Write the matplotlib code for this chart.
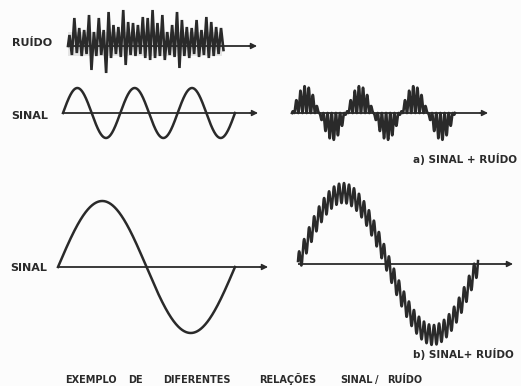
import numpy as np
import matplotlib
matplotlib.use('Agg')
import matplotlib.pyplot as plt

# ---------------- data ----------------
noise_up = [11, 28, 18, 16, 31, 14, 28, 16, 34, 21, 19, 36, 24, 23, 21, 29,
            28, 36, 23, 31, 14, 21, 34, 26, 19, 18, 26, 16, 29, 24, 19, 18]
noise_down = [9, 7, 10, 8, 24, 10, 9, 27, 12, 8, 11, 19, 9, 10, 8, 12,
              14, 12, 10, 14, 9, 11, 22, 10, 12, 8, 11, 9, 12, 10, 8, 4]

small_cycles = 3          # SINAL (top)
small_amp = 25
mix_a_cycles = 3          # a) SINAL + RUIDO
mix_a_amp = 27
mix_a_hf_per_cycle = 13
big_cycles = 1            # SINAL (bottom)
big_amp = 66
mix_b_cycles = 1          # b) SINAL + RUIDO
mix_b_amp = 71
mix_b_hf_per_cycle = 36
mix_b_hf_amp = 10

label_noise = "RUÍDO"
label_signal = "SINAL"
label_a = "a) SINAL + RUÍDO"
label_b = "b) SINAL+ RUÍDO"
title_words = ["EXEMPLO", "DE", "DIFERENTES", "RELAÇÕES", "SINAL", "/", "RUÍDO"]

# ---------------- layout (pixel space) ----------------
INK = '#2a2a2a'
BG = '#fcfcfc'
fig = plt.figure(figsize=(5.21, 3.86), dpi=100, facecolor=BG)
ax = fig.add_axes([0, 0, 1, 1])
ax.set_xlim(0, 521)
ax.set_ylim(386, 0)
ax.axis('off')
ax.set_facecolor(BG)


def axis_arrow(x0, x1, y):
    ax.plot([x0, x1 - 6], [y, y], color=INK, lw=1.3, solid_capstyle='butt')
    ax.annotate('', xy=(x1, y), xytext=(x1 - 8, y),
                arrowprops=dict(arrowstyle='-|>', color=INK, lw=1.0,
                                mutation_scale=9, shrinkA=0, shrinkB=0))


# ---- noise ----
nb, nx0, nx1 = 46, 68, 222
sp = (nx1 - nx0) / (len(noise_up) - 0.5)
xs, ys = [nx0], [nb]
for i, (u, d) in enumerate(zip(noise_up, noise_down)):
    xu = nx0 + 0.3 * sp + i * sp
    xs += [xu, xu + sp * 0.5]
    ys += [nb - u, nb + d]
ax.fill_between([nx0, nx1], nb - 14, nb + 10, color='#cfcfcf', alpha=0.5, lw=0)
ax.plot(xs, ys, color=INK, lw=1.9, solid_joinstyle='miter')
axis_arrow(nx0, 257, nb)
ax.text(12, 43, label_noise, fontsize=8, fontweight='bold', color=INK, va='center', ha='left')

# ---- small signal ----
sb, sx0, sx1 = 113, 63, 235
t = np.linspace(0, 1, 1200)
ax.plot(sx0 + (sx1 - sx0) * t, sb - small_amp * np.sin(2 * np.pi * small_cycles * t),
        color=INK, lw=1.8)
axis_arrow(sx0, 258, sb)
ax.text(11, 116, label_signal, fontsize=8, fontweight='bold', color=INK, va='center', ha='left')

# ---- a) signal + noise ----
ab, ax0, ax1 = 113, 292, 455
t = np.linspace(0, 1, 4000)
env = mix_a_amp * np.sin(2 * np.pi * mix_a_cycles * t)
hf = 0.5 + 0.5 * np.cos(2 * np.pi * mix_a_cycles * mix_a_hf_per_cycle * t)
ax.plot(ax0 + (ax1 - ax0) * t, ab - env * hf, color=INK, lw=1.9)
axis_arrow(ax0, 488, ab)
ax.text(413, 159, label_a, fontsize=7.5, fontweight='bold', color=INK, va='center', ha='left')

# ---- big signal ----
bb, bx0, bx1 = 267, 58, 235
t = np.linspace(0, 1, 1200)
ax.plot(bx0 + (bx1 - bx0) * t, bb - big_amp * np.sin(2 * np.pi * big_cycles * t),
        color=INK, lw=1.8)
axis_arrow(bx0, 268, bb)
ax.text(10, 268, label_signal, fontsize=8, fontweight='bold', color=INK, va='center', ha='left')

# ---- b) signal + noise ----
mb, mx0, mx1 = 264, 298, 478
t = np.linspace(0, 1, 4000)
y = mix_b_amp * np.sin(2 * np.pi * mix_b_cycles * t) + \
    mix_b_hf_amp * np.sin(2 * np.pi * mix_b_hf_per_cycle * t + 0.3)
ax.plot(mx0 + (mx1 - mx0) * t, mb - y, color=INK, lw=1.8)
axis_arrow(mx0, 513, mb)
ax.text(413, 354, label_b, fontsize=7.5, fontweight='bold', color=INK, va='center', ha='left')

# ---- title ----
title_x = [65, 128, 163, 259, 340, 375, 387]
for w, x in zip(title_words, title_x):
    ax.text(x, 383, w, fontsize=7, fontweight='bold', color=INK, va='baseline', ha='left')

fig.savefig('out.png', dpi=100, facecolor=BG)
